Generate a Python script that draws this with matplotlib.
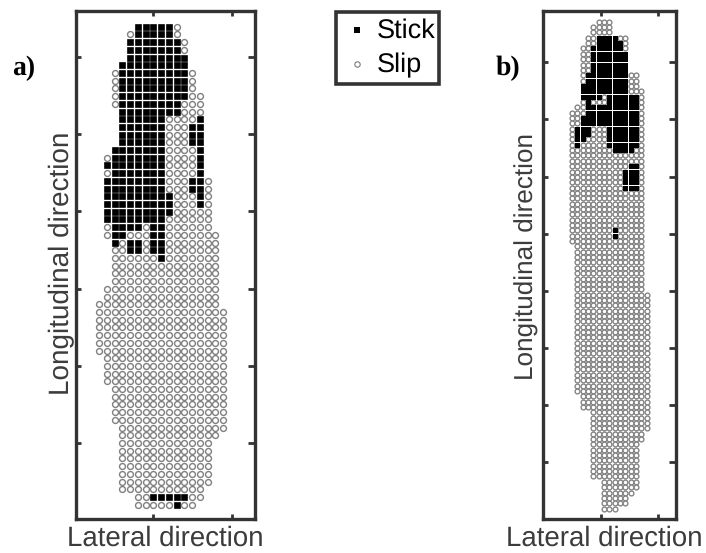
import matplotlib
matplotlib.use("Agg")
import matplotlib.pyplot as plt
from matplotlib.patches import Rectangle

W, H = 706, 553
plt.rcParams['font.family'] = ['Liberation Sans', 'DejaVu Sans']
plt.rcParams['text.hinting'] = 'none'

# Each row: (first column, last column, [stick runs (first, last)])
ROWS_A = [
 (5,10,[(5,9)]),(4,10,[(5,9)]),(4,11,[(4,10)]),(4,11,[(4,10)]),(4,11,[(4,11)]),(3,11,[(3,11)]),
 (2,12,[(3,11)]),(2,12,[(3,11)]),(2,12,[(3,11)]),(2,13,[(3,11)]),(2,13,[(3,10)]),(3,13,[(3,10)]),
 (3,13,[(3,8),(13,13)]),(3,13,[(3,8),(12,13)]),(3,13,[(3,8),(12,13)]),(3,13,[(3,8),(12,13)]),
 (2,13,[(2,8),(13,13)]),(1,13,[(2,8),(13,13)]),(1,13,[(1,8),(13,13)]),(1,13,[(2,8),(13,13)]),
 (1,14,[(1,8),(12,13)]),(1,14,[(1,8),(12,13)]),(1,14,[(1,9),(13,13)]),(1,14,[(1,9),(13,13)]),
 (1,14,[(1,9)]),(1,14,[(1,8)]),(1,14,[(2,5),(7,8)]),(1,15,[(2,3),(7,8)]),
 (2,15,[(2,2),(4,5),(7,8)]),(2,15,[(4,5),(7,8)]),(2,15,[(8,8)]),(2,15,[]),
 (2,15,[]),(2,15,[]),(1,15,[]),(1,15,[]),(0,15,[]),(0,16,[]),(0,16,[]),(0,16,[]),(0,16,[]),(0,16,[]),(0,16,[]),
 (1,16,[]),(1,16,[]),(1,16,[]),(1,16,[]),
 (2,16,[]),(2,16,[]),(2,16,[]),(2,16,[]),(2,16,[]),
 (3,16,[]),(3,15,[]),(3,14,[]),(3,14,[]),(3,14,[]),(3,14,[]),(3,14,[]),(3,14,[]),(3,13,[]),
 (5,13,[(7,11)]),(5,12,[(10,10)]),
]
ROWS_B = [
 (5,7,[]),(4,7,[]),(4,7,[]),(3,10,[(5,8)]),(3,10,[(5,9)]),(2,10,[(4,9)]),
 (2,10,[(4,10)]),(2,10,[(4,10)]),(2,10,[(4,10)]),(2,10,[(4,10)]),
 (2,12,[(3,10)]),(2,12,[(3,10)]),(2,12,[(2,10)]),(2,13,[(2,10)]),
 (2,13,[(2,5),(7,12)]),(2,13,[(3,3),(7,12)]),(1,13,[(3,12)]),(0,13,[(3,12)]),
 (0,13,[(2,12)]),(0,13,[(2,12)]),(0,13,[(1,3),(7,12)]),(0,13,[(1,3),(7,12)]),
 (0,13,[(1,2),(7,12)]),(0,13,[(1,1),(7,12)]),(0,13,[(8,11)]),(0,13,[]),(0,13,[]),
 (0,13,[(11,12)]),(0,13,[(10,12)]),(0,13,[(10,12)]),(0,13,[(10,12)]),(0,13,[(10,12)]),
 (0,13,[]),(0,13,[]),(0,13,[]),(0,13,[]),(0,13,[]),(0,13,[]),(0,13,[]),
 (0,13,[(8,8)]),(0,13,[(8,8)]),(0,13,[]),
] + [(1,13,[])]*9 + [(1,14,[])]*19 + [(2,14,[])]*3 + [(4,14,[])]*4 + [(4,13,[])]*2 + [(4,12,[])]*7 + \
    [(6,12,[])]*2 + [(6,11,[])] + [(6,10,[])]*2 + [(6,8,[])]

TICKS_A_X = [7.0, 17.2]
TICKS_A_Y = [3.9, 13.9, 23.9, 34.0, 44.0, 54.0]
TICKS_B_X = [5.4, 16.1]
TICKS_B_Y = [7.5, 18.2, 29.0, 39.7, 50.3, 61.0, 71.6, 82.3]

LEGEND_LABELS = ["Stick", "Slip"]
X_LABEL = "Lateral direction"
Y_LABEL = "Longitudinal direction"
FRAME = "#333333"
TEXT = "#3c3c3c"
RING = "#808080"

fig = plt.figure(figsize=(W/100, H/100), dpi=100)

def px_axes(l, t, r, b):
    return fig.add_axes([l/W, 1-b/H, (r-l)/W, (b-t)/H])

def split(rows):
    sx, sy, ox, oy = [], [], [], []
    for j, (a, b, runs) in enumerate(rows):
        for c in range(a, b+1):
            if any(f <= c <= l for f, l in runs):
                sx.append(c); sy.append(j)
            else:
                ox.append(c); oy.append(j)
    return sx, sy, ox, oy

def panel(frame, x0, dx, y0, dy, rows, xt, yt, sq, ring, lw):
    l, t, r, b = frame
    ax = px_axes(l, t, r, b)
    ax.set_xlim((l-x0)/dx, (r-x0)/dx)
    ax.set_ylim((b-y0)/dy, (t-y0)/dy)
    sx, sy, ox, oy = split(rows)
    a = ax.scatter(ox, oy, s=ring, marker='o', facecolor='white', edgecolor=RING, linewidth=lw, zorder=2)
    c = ax.scatter(sx, sy, s=sq, marker='s', color='black', linewidth=0, zorder=3)
    a.set_snap(False); c.set_snap(False)
    ax.set_xticks(xt); ax.set_yticks(yt)
    ax.set_xticklabels([]); ax.set_yticklabels([])
    ax.tick_params(direction='in', length=3.4, width=2, color=FRAME,
                   top=True, right=True, bottom=True, left=True)
    for tick in ax.yaxis.get_major_ticks():
        tick.tick2line.set_markersize(5)
    for s in ax.spines.values():
        s.set_linewidth(2.4); s.set_color(FRAME)
    return ax

panel((76, 11, 255, 519), 99, 7.75, 26.7, 7.71, ROWS_A, TICKS_A_X, TICKS_A_Y, 23, 18, 1.0)
panel((543, 11, 676, 519), 572, 5.33, 21.7, 5.35, ROWS_B, TICKS_B_X, TICKS_B_Y, 13, 12, 0.95)

def t(x, y, s, **kw):
    fig.text(x/W, 1-y/H, s, **kw)

t(165.5, 538, X_LABEL, fontsize=19.9, color=TEXT, ha='center', va='center')
t(604.5, 538, X_LABEL, fontsize=19.9, color=TEXT, ha='center', va='center')
t(62, 263, Y_LABEL, fontsize=20.1, color=TEXT, ha='center', va='center', rotation=90)
t(527, 257, Y_LABEL, fontsize=18.8, color=TEXT, ha='center', va='center', rotation=90)
t(12, 75, "a)", fontsize=20, fontweight='bold', family='Liberation Serif', color='black', ha='left', va='baseline')
t(496, 75, "b)", fontsize=20, fontweight='bold', family='Liberation Serif', color='black', ha='left', va='baseline')

# legend
lax = fig.add_axes([0, 0, 1, 1], facecolor='none')
lax.set_xlim(0, W); lax.set_ylim(H, 0); lax.axis('off')
lax.add_patch(Rectangle((335.5, 11.5), 103, 72, fill=False, edgecolor=FRAME, linewidth=2.6))
lax.scatter([357], [30], s=22, marker='s', color='black', linewidth=0)
lax.scatter([357], [64], s=15, marker='o', facecolor='white', edgecolor=RING, linewidth=0.85)
lax.text(377, 31, LEGEND_LABELS[0], fontsize=19.5, color='black', ha='left', va='center')
lax.text(377, 65, LEGEND_LABELS[1], fontsize=19.5, color='black', ha='left', va='center')

fig.savefig("out.png", dpi=100)
